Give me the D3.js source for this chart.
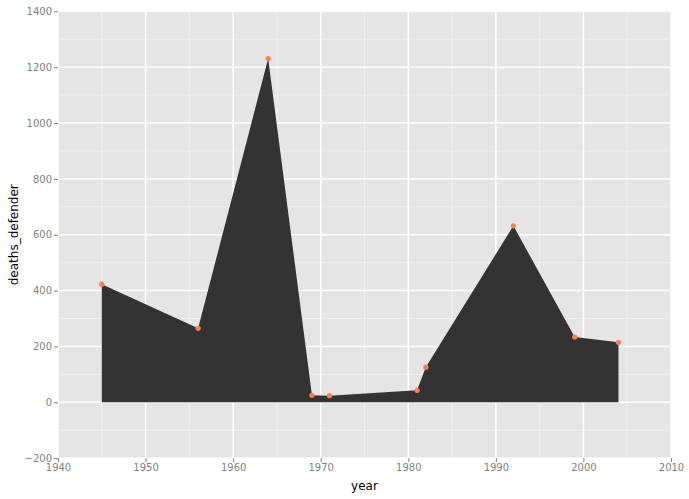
<!DOCTYPE html>
<html><head><meta charset="utf-8">
<script src="https://cdn.jsdelivr.net/npm/d3@7"></script>
<style>body{margin:0;background:#fff;} text{font-family:"DejaVu Sans",sans-serif;}</style>
</head><body>
<svg id="c" width="689" height="499"></svg>
<script>
const years = [1945, 1956, 1964, 1969, 1971, 1981, 1982, 1992, 1999, 2004];
const deaths = [423, 265, 1231, 25, 24, 43, 126, 632, 234, 215];
const xTicks = [1940, 1950, 1960, 1970, 1980, 1990, 2000, 2010];
const yTicks = [-200, 0, 200, 400, 600, 800, 1000, 1200, 1400];
const xMinor = [1945, 1955, 1965, 1975, 1985, 1995, 2005];
const yMinor = [-100, 100, 300, 500, 700, 900, 1100, 1300];

const data = years.map((y, i) => ({year: y, v: deaths[i]}));
const svg = d3.select("#c");
const L = 58, R = 671, T = 11.3, B = 458.2;
const x = d3.scaleLinear().domain([1940, 2010]).range([L, R]);
const y = d3.scaleLinear().domain([-200, 1400]).range([B, T]);

svg.append("rect").attr("x", L).attr("y", T).attr("width", R - L).attr("height", B - T).attr("fill", "#e5e5e5");
const g = svg.append("g");
g.selectAll(".xm").data(xMinor).join("line").attr("x1", d => x(d)).attr("x2", d => x(d)).attr("y1", T).attr("y2", B).attr("stroke", "#f2f2f2").attr("stroke-width", 0.8);
g.selectAll(".ym").data(yMinor).join("line").attr("y1", d => y(d)).attr("y2", d => y(d)).attr("x1", L).attr("x2", R).attr("stroke", "#f2f2f2").attr("stroke-width", 0.8);
g.selectAll(".xM").data(xTicks).join("line").attr("x1", d => x(d)).attr("x2", d => x(d)).attr("y1", T).attr("y2", B).attr("stroke", "#fff").attr("stroke-width", 1.5);
g.selectAll(".yM").data(yTicks).join("line").attr("y1", d => y(d)).attr("y2", d => y(d)).attr("x1", L).attr("x2", R).attr("stroke", "#fff").attr("stroke-width", 1.5);

const area = d3.area().x(d => x(d.year)).y0(y(0)).y1(d => y(d.v));
svg.append("path").datum(data).attr("d", area).attr("fill", "#333333");

svg.selectAll(".pt").data(data).join("circle").attr("cx", d => x(d.year)).attr("cy", d => y(d.v)).attr("r", 2.6).attr("fill", "#ff7f50");

// axes
const xa = svg.append("g").attr("transform", `translate(0,${B})`).call(d3.axisBottom(x).tickValues(xTicks).tickFormat(d3.format("d")).tickSize(4).tickPadding(2));
const ya = svg.append("g").attr("transform", `translate(${L},0)`).call(d3.axisLeft(y).tickValues(yTicks).tickFormat(d => d < 0 ? "\u2212" + Math.abs(d) : d).tickSize(4).tickPadding(2));
[xa, ya].forEach(a => {
  a.select(".domain").remove();
  a.selectAll("line").attr("stroke", "#7f7f7f");
  a.selectAll("text").attr("fill", "#7f7f7f").style("font-size", "10px").style("font-family", "DejaVu Sans, sans-serif");
});

svg.append("text").attr("x", (L + R) / 2).attr("y", 490).attr("text-anchor", "middle").style("font-size", "12px").text("year");
svg.append("text").attr("transform", `translate(18,${(T + B) / 2}) rotate(-90)`).attr("text-anchor", "middle").style("font-size", "12px").text("deaths_defender");
</script>
</body></html>
